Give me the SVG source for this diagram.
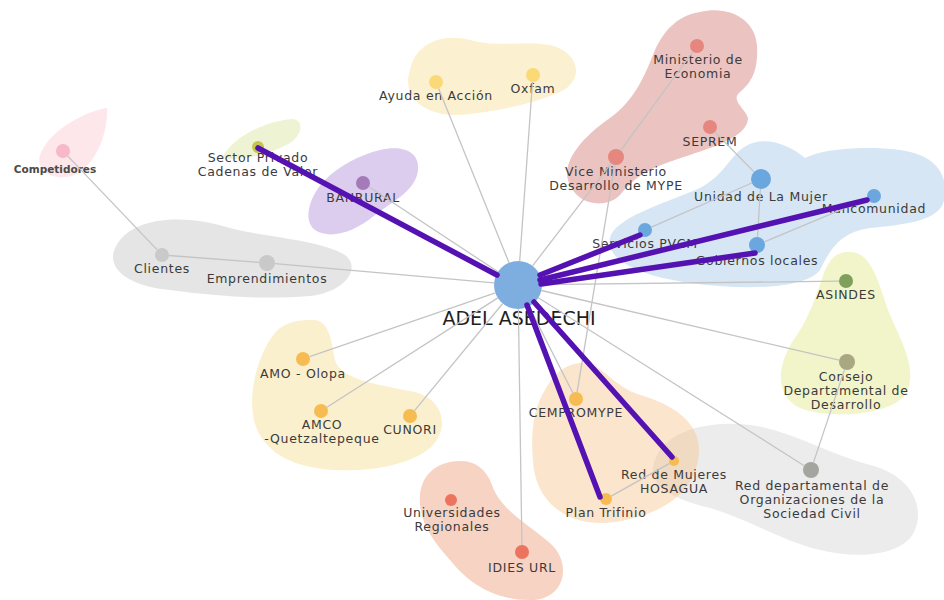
<svg xmlns="http://www.w3.org/2000/svg" width="944" height="600" viewBox="0 0 944 600">
<style>
.lbl{font-family:"DejaVu Sans","Liberation Sans",sans-serif;font-size:12.5px;letter-spacing:0.7px;fill:#3b3b3b;text-anchor:middle}
.main{font-family:"DejaVu Sans","Liberation Sans",sans-serif;font-size:19px;fill:#1e1e1e;text-anchor:middle}
.small{font-family:"DejaVu Sans","Liberation Sans",sans-serif;font-size:10.5px;font-weight:bold;fill:#4a4a4a;text-anchor:middle}
.g{stroke:#c4c4c4;stroke-width:1.3;fill:none}
.p{stroke:#5512b2;stroke-width:5.5;stroke-linecap:round;fill:none}
</style>
<rect width="944" height="600" fill="#ffffff"/>
<g id="clusters">
<path d="M107,108 C90,110 50,128 40,155 C35,172 55,182 75,175 C95,165 108,135 107,108 Z" fill="#fde7eb"/>
<path d="M222,158 C230,140 260,122 292,119 C305,120 302,135 290,143 C275,152 245,162 222,158 Z" fill="#eef4d3"/>
<path d="M380,150 C400,145 420,150 418,170 C416,190 395,200 375,215 C355,232 330,240 315,230 C302,220 310,195 325,180 C340,165 360,155 380,150 Z" fill="#dccdef"/>
<path d="M120,240 C140,215 190,215 230,228 C270,238 320,240 345,255 C362,268 345,292 310,296 C260,300 215,296 170,290 C125,286 100,265 120,240 Z" fill="#e5e5e5"/>
<path d="M410,70 C415,45 440,32 470,40 C500,48 520,40 550,45 C580,52 585,80 560,92 C530,105 500,110 470,114 C430,120 400,100 410,70 Z" fill="#fbf1d0"/>
<path d="M700,12 C730,5 755,20 757,45 C758,65 755,80 740,92 C730,100 745,108 748,118 C748,135 720,145 690,155 C660,165 640,170 620,195 C605,210 575,205 568,180 C562,160 585,135 610,118 C635,100 645,75 655,50 C665,28 680,15 700,12 Z" fill="#ebc4c1"/>
<path d="M746,146 C765,135 790,145 805,158 C820,150 860,145 900,150 C930,154 950,170 944,200 C940,222 900,225 870,228 C840,232 830,250 820,270 C805,290 740,290 690,283 C640,276 605,260 610,238 C615,218 660,205 700,188 C725,175 730,155 746,146 Z" fill="#d6e6f4"/>
<path d="M848,252 C870,250 878,280 888,310 C900,340 920,370 905,395 C890,415 830,420 800,408 C772,395 778,360 797,335 C812,312 818,290 825,270 C832,256 838,252 848,252 Z" fill="#f2f5ca"/>
<path d="M655,460 C665,430 710,420 750,425 C790,430 830,455 870,465 C910,475 925,505 915,530 C905,555 860,560 820,550 C780,540 750,520 710,508 C670,498 645,485 655,460 Z" fill="#ececec"/>
<path d="M580,363 C600,360 610,385 640,395 C675,405 705,425 698,460 C692,495 660,515 615,522 C570,528 540,505 534,470 C530,440 532,410 545,390 C555,372 565,365 580,363 Z" fill="#f7c58e" fill-opacity="0.45"/>
<path d="M312,320 C330,318 332,345 335,360 C340,380 380,385 415,392 C445,400 450,430 430,448 C410,465 370,472 335,470 C290,468 258,450 253,415 C248,380 265,340 280,328 C292,320 302,320 312,320 Z" fill="#fbf0cd"/>
<path d="M450,462 C470,458 485,465 492,485 C500,510 530,525 552,545 C572,565 565,600 530,600 C495,600 470,585 450,560 C432,540 418,520 420,495 C422,475 435,465 450,462 Z" fill="#f7d3c3"/>
</g>
<g id="n-center"><circle cx="518" cy="285" r="24" fill="#7eaedf"/><text class="main" x="519" y="325">ADEL ASEDECHI</text></g>
<g id="n-competidores"><circle cx="63" cy="151" r="7" fill="#f7b8c8"/><text class="small" x="55" y="173">Competidores</text></g>
<g id="n-sector-privado"><circle cx="258" cy="147" r="6" fill="#c6c64a"/><text class="lbl" x="258" y="162">Sector Privado<tspan x="258" dy="14">Cadenas de Valor</tspan></text></g>
<g id="n-banrural"><circle cx="363" cy="183" r="7" fill="#a47bb8"/><text class="lbl" x="363" y="202">BANRURAL</text></g>
<g id="n-clientes"><circle cx="162" cy="255" r="7" fill="#c9c9c9"/><text class="lbl" x="162" y="273">Clientes</text></g>
<g id="n-emprendimientos"><circle cx="267" cy="263" r="8" fill="#c9c9c9"/><text class="lbl" x="267" y="283">Emprendimientos</text></g>
<g id="n-ayuda"><circle cx="436" cy="82" r="7" fill="#fbd977"/><text class="lbl" x="436" y="100">Ayuda en Acción</text></g>
<g id="n-oxfam"><circle cx="533" cy="75" r="7" fill="#fbd977"/><text class="lbl" x="533" y="93">Oxfam</text></g>
<g id="n-ministerio"><circle cx="697" cy="46" r="7" fill="#e5877f"/><text class="lbl" x="698" y="64">Ministerio de<tspan x="698" dy="14">Economia</tspan></text></g>
<g id="n-seprem"><circle cx="710" cy="127" r="7" fill="#e5877f"/><text class="lbl" x="710" y="146">SEPREM</text></g>
<g id="n-vice"><circle cx="616" cy="157" r="8" fill="#e5877f"/><text class="lbl" x="616" y="176">Vice Ministerio<tspan x="616" dy="14">Desarrollo de MYPE</tspan></text></g>
<g id="n-unidad"><circle cx="761" cy="179" r="10" fill="#6aa7de"/><text class="lbl" x="761" y="201">Unidad de La Mujer</text></g>
<g id="n-mancomunidad"><circle cx="874" cy="196" r="7" fill="#6aa7de"/><text class="lbl" x="874" y="213">Mancomunidad</text></g>
<g id="n-servicios"><circle cx="645" cy="230" r="7" fill="#6aa7de"/><text class="lbl" x="645" y="248">Servicios PVCM</text></g>
<g id="n-gobiernos"><circle cx="757" cy="245" r="8" fill="#6aa7de"/><text class="lbl" x="757" y="265">Gobiernos locales</text></g>
<g id="n-asindes"><circle cx="846" cy="281" r="7" fill="#7fa05a"/><text class="lbl" x="846" y="299">ASINDES</text></g>
<g id="n-consejo"><circle cx="847" cy="362" r="8" fill="#a9a882"/><text class="lbl" x="846" y="381">Consejo<tspan x="846" dy="14">Departamental de</tspan><tspan x="846" dy="14">Desarrollo</tspan></text></g>
<g id="n-red-departamental"><circle cx="811" cy="470" r="8" fill="#a5a5a0"/><text class="lbl" x="812" y="490">Red departamental de<tspan x="812" dy="14">Organizaciones de la</tspan><tspan x="812" dy="14">Sociedad Civil</tspan></text></g>
<g id="n-red-mujeres"><circle cx="674" cy="461" r="5" fill="#f6bc52"/><text class="lbl" x="674" y="479">Red de Mujeres<tspan x="674" dy="14">HOSAGUA</tspan></text></g>
<g id="n-plan-trifinio"><circle cx="606" cy="499" r="6" fill="#f6bc52"/><text class="lbl" x="606" y="517">Plan Trifinio</text></g>
<g id="n-cempromype"><circle cx="576" cy="399" r="7" fill="#f6bc52"/><text class="lbl" x="576" y="417">CEMPROMYPE</text></g>
<g id="n-amo"><circle cx="303" cy="359" r="7" fill="#f6bc52"/><text class="lbl" x="303" y="378">AMO - Olopa</text></g>
<g id="n-amco"><circle cx="321" cy="411" r="7" fill="#f6bc52"/><text class="lbl" x="322" y="429">AMCO<tspan x="322" dy="14">-Quetzaltepeque</tspan></text></g>
<g id="n-cunori"><circle cx="410" cy="416" r="7" fill="#f6bc52"/><text class="lbl" x="410" y="434">CUNORI</text></g>
<g id="n-universidades"><circle cx="451" cy="500" r="6" fill="#ec745e"/><text class="lbl" x="452" y="517">Universidades<tspan x="452" dy="14">Regionales</tspan></text></g>
<g id="n-idies"><circle cx="522" cy="552" r="7" fill="#ec745e"/><text class="lbl" x="522" y="572">IDIES URL</text></g>
<g id="connectors">
<line class="g" x1="67.8" y1="156.1" x2="157.2" y2="249.9"/>
<line class="g" x1="169" y1="255.5" x2="259" y2="262.4"/>
<line class="g" x1="275" y1="263.7" x2="494.1" y2="282.9"/>
<line class="g" x1="368.8" y1="186.8" x2="498" y2="271.8"/>
<line class="g" x1="438.6" y1="88.5" x2="509" y2="262.7"/>
<line class="g" x1="532.5" y1="82" x2="519.7" y2="261"/>
<line class="g" x1="692.9" y1="51.7" x2="620.7" y2="150.5"/>
<line class="g" x1="611.1" y1="163.4" x2="532.6" y2="265.9"/>
<line class="g" x1="614.7" y1="164.9" x2="577.1" y2="392.1"/>
<line class="g" x1="714.9" y1="132" x2="754" y2="171.9"/>
<line class="g" x1="751.8" y1="183" x2="651.4" y2="227.2"/>
<line class="g" x1="760.4" y1="189" x2="757.5" y2="237"/>
<line class="g" x1="764.4" y1="241.9" x2="867.5" y2="198.7"/>
<line class="g" x1="542" y1="284.7" x2="839" y2="281.1"/>
<line class="g" x1="541.4" y1="290.5" x2="839.2" y2="360.2"/>
<line class="g" x1="844.5" y1="369.6" x2="813.5" y2="462.4"/>
<line class="g" x1="538.3" y1="297.8" x2="804.2" y2="465.7"/>
<line class="g" x1="528.9" y1="306.4" x2="572.8" y2="392.8"/>
<line class="g" x1="611.2" y1="496.1" x2="669.6" y2="463.4"/>
<line class="g" x1="495.3" y1="292.8" x2="309.6" y2="356.7"/>
<line class="g" x1="497.8" y1="297.9" x2="326.9" y2="407.2"/>
<line class="g" x1="502.7" y1="303.5" x2="414.5" y2="410.6"/>
<line class="g" x1="518.4" y1="309" x2="521.9" y2="545"/>
<line class="p" x1="258" y1="148" x2="497" y2="275"/>
<line class="p" x1="540" y1="275" x2="640" y2="235"/>
<line class="p" x1="540" y1="280" x2="867" y2="200"/>
<line class="p" x1="541" y1="284" x2="755" y2="253"/>
<line class="p" x1="527" y1="305" x2="600" y2="497"/>
<line class="p" x1="534" y1="302" x2="672" y2="457"/>
</g>
</svg>
